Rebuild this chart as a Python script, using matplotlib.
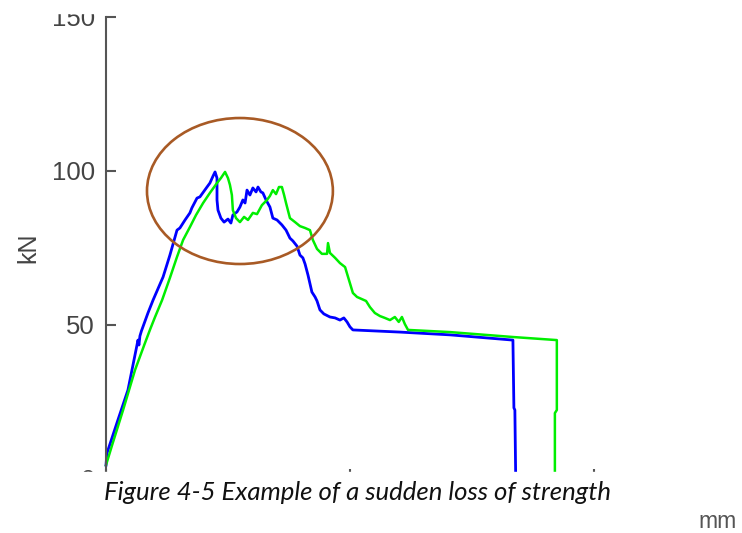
import matplotlib.pyplot as plt
from matplotlib.patches import Ellipse, Rectangle

plt.rcParams["font.family"] = ["Liberation Sans", "DejaVu Sans"]

# displacement (mm) and force (kN)
blue_x = [0.0, 0.04, 0.49, 0.90, 1.23, 1.31, 1.35, 1.39, 1.45, 1.72, 1.93, 2.34, 2.62, 2.91,
          3.03, 3.24, 3.44, 3.52, 3.73, 3.85, 4.14, 4.26, 4.39, 4.47, 4.55, 4.55, 4.55, 4.59,
          4.71, 4.84, 5.00, 5.12, 5.20, 5.37, 5.49, 5.61, 5.70, 5.78, 5.90, 6.02, 6.15, 6.23,
          6.35, 6.43, 6.56, 6.72, 6.84, 7.01, 7.21, 7.38, 7.54, 7.66, 7.83, 7.95, 8.07, 8.16,
          8.28, 8.44, 8.57, 8.65, 8.77, 8.93, 9.18, 9.39, 9.59, 9.75, 9.88, 10.0, 10.12,
          12.05, 14.10, 16.68, 16.72, 16.76, 16.80]
blue_y = [4.5, 8.4, 19.2, 28.9, 41.9, 45.1, 43.5, 46.4, 48.0, 53.9, 58.1, 65.6, 72.7, 80.8,
          81.5, 84.1, 86.4, 88.0, 91.2, 91.6, 94.8, 96.1, 98.4, 99.7, 97.7, 96.1, 90.6, 87.3,
          84.7, 83.4, 84.4, 83.1, 85.7, 86.7, 88.3, 90.6, 89.6, 93.8, 92.2, 94.5, 93.2, 94.8,
          93.2, 92.9, 90.6, 88.3, 84.7, 84.1, 82.5, 80.8, 78.2, 77.3, 75.6, 72.7, 71.8, 69.8,
          66.2, 60.7, 59.1, 57.8, 54.9, 53.6, 52.6, 52.3, 51.6, 52.3, 51.0, 49.4, 48.4,
          47.7, 46.8, 45.1, 23.1, 22.4, -3.6]

green_x = [0.0, 0.25, 0.70, 1.19, 1.60, 1.80, 2.01, 2.30, 2.62, 2.91, 3.16, 3.44, 3.69, 3.98,
           4.26, 4.55, 4.71, 4.88, 5.00, 5.08, 5.16, 5.20, 5.33, 5.49, 5.66, 5.82, 6.02, 6.19,
           6.39, 6.60, 6.72, 6.84, 6.97, 7.09, 7.21, 7.30, 7.38, 7.54, 7.75, 7.95, 8.16, 8.36,
           8.48, 8.65, 8.85, 9.06, 9.10, 9.18, 9.39, 9.59, 9.80, 9.96, 10.12, 10.29, 10.49,
           10.66, 10.82, 11.02, 11.23, 11.43, 11.64, 11.84, 12.00, 12.13, 12.25, 12.38,
           14.10, 16.68, 18.48, 18.48, 18.40, 18.40]
green_y = [4.5, 11.0, 22.4, 35.4, 44.2, 48.4, 52.6, 58.1, 65.3, 72.1, 77.6, 81.8, 85.7, 89.6,
           92.9, 96.1, 97.7, 99.7, 97.7, 95.5, 92.2, 87.3, 84.7, 83.4, 85.1, 84.1, 86.4, 86.0,
           88.9, 90.6, 91.9, 93.8, 92.5, 94.8, 94.8, 92.2, 89.6, 84.7, 83.4, 82.1, 81.5, 80.8,
           77.6, 74.7, 73.1, 73.1, 76.6, 73.4, 71.8, 70.1, 68.8, 64.6, 60.4, 59.1, 58.4,
           57.8, 55.8, 53.9, 52.9, 52.3, 51.6, 52.6, 51.0, 52.6, 50.3, 48.4,
           47.7, 46.1, 45.1, 22.4, 21.4, -3.6]

y_ticks = [0, 50, 100, 150]
x_ticks = [0, 10, 20]

fig = plt.figure(figsize=(7.42, 5.33), dpi=100)
ax = fig.add_axes([106 / 742, 1 - 479 / 533, 636 / 742, 462 / 533])

ax.plot(blue_x, blue_y, color="#0000ff", linewidth=2.0, clip_on=False)
ax.plot(green_x, green_y, color="#00ee00", linewidth=1.8, clip_on=False)

ax.set_xlim(0, 26.07)
ax.set_ylim(0, 150)
ax.set_yticks(y_ticks)
ax.set_xticks(x_ticks)
ax.tick_params(direction="in", length=7, width=1.5, color="#555555",
               labelsize=18.5, labelcolor="#444444", pad=8)
ax.tick_params(axis="x", labelbottom=False)
for side in ["top", "right"]:
    ax.spines[side].set_visible(False)
for side in ["left", "bottom"]:
    ax.spines[side].set_color("#555555")
    ax.spines[side].set_linewidth(1.5)

ax.set_ylabel("kN", fontsize=18, color="#444444", labelpad=8)

# circle drawn around the peak region
ax.add_patch(Ellipse((5.49, 93.5), 7.62, 47.4, fill=False, edgecolor="#a85a25",
                     linewidth=1.9, clip_on=False, zorder=3))

# the screenshot is cut at the top and bottom
fig.add_artist(Rectangle((0, 0), 1, 61 / 533, transform=fig.transFigure,
                         color="white", zorder=5))
fig.add_artist(Rectangle((0, 1 - 13 / 533), 1, 13 / 533, transform=fig.transFigure,
                         color="white", zorder=5))

fig.text(358 / 742, 1 - 492 / 533, "Figure 4-5 Example of a sudden loss of strength",
         fontsize=18.5, fontstyle="italic", family="Lato", color="#111111",
         ha="center", va="center", zorder=6)
fig.text(718 / 742, 1 - 521 / 533, "mm", fontsize=16.5, color="#555555",
         ha="center", va="center", zorder=6)

fig.savefig("out.png", dpi=100)
